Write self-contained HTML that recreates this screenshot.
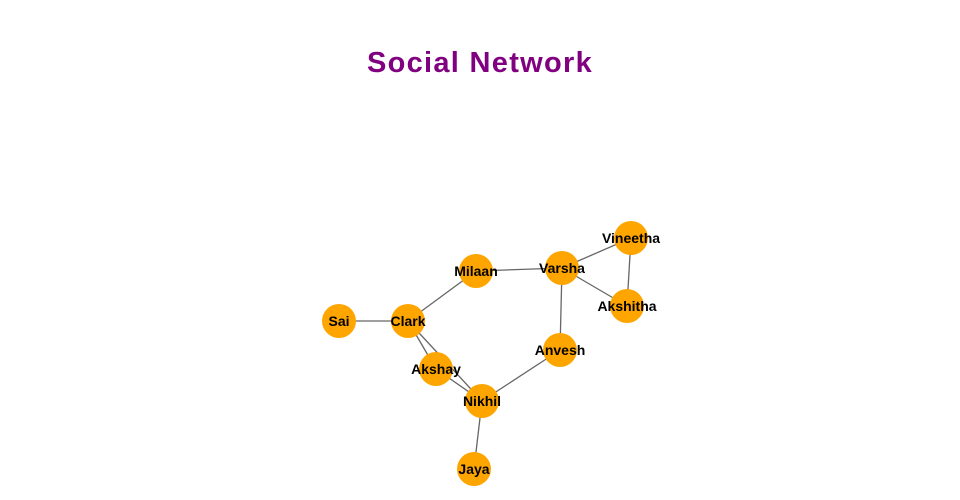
<!DOCTYPE html>
<html><head><meta charset="utf-8"><style>
html,body{margin:0;padding:0;background:#fff;}
svg{display:block}
</style></head><body>
<svg width="960" height="500" xmlns="http://www.w3.org/2000/svg">
<text x="480" y="72" text-anchor="middle" font-family="Liberation Sans, sans-serif" font-weight="bold" font-size="29" letter-spacing="1.3" fill="#800080">Social Network</text>
<g stroke="#666" stroke-width="1.3">
<line x1="339" y1="321" x2="408" y2="321"/>
<line x1="408" y1="321" x2="476" y2="271"/>
<line x1="408" y1="321" x2="436" y2="369"/>
<line x1="408" y1="321" x2="482" y2="401"/>
<line x1="436" y1="369" x2="482" y2="401"/>
<line x1="476" y1="271" x2="562" y2="268"/>
<line x1="562" y1="268" x2="631" y2="238"/>
<line x1="562" y1="268" x2="627" y2="306"/>
<line x1="562" y1="268" x2="560" y2="350"/>
<line x1="631" y1="238" x2="627" y2="306"/>
<line x1="560" y1="350" x2="482" y2="401"/>
<line x1="482" y1="401" x2="474" y2="469"/>
</g>
<g fill="#FFA500">
<circle cx="339" cy="321" r="17"/><circle cx="408" cy="321" r="17"/>
<circle cx="476" cy="271" r="17"/><circle cx="562" cy="268" r="17"/>
<circle cx="631" cy="238" r="17"/><circle cx="627" cy="306" r="17"/>
<circle cx="560" cy="350" r="17"/><circle cx="436" cy="369" r="17"/>
<circle cx="482" cy="401" r="17"/><circle cx="474" cy="469" r="17"/>
</g>
<g font-family="Liberation Sans, sans-serif" font-weight="bold" font-size="14" fill="#000" text-anchor="middle">
<text x="339" y="326">Sai</text><text x="408" y="326">Clark</text>
<text x="476" y="276">Milaan</text><text x="562" y="273">Varsha</text>
<text x="631" y="243">Vineetha</text><text x="627" y="311">Akshitha</text>
<text x="560" y="355">Anvesh</text><text x="436" y="374">Akshay</text>
<text x="482" y="406">Nikhil</text><text x="474" y="474">Jaya</text>
</g>
</svg>
</body></html>
